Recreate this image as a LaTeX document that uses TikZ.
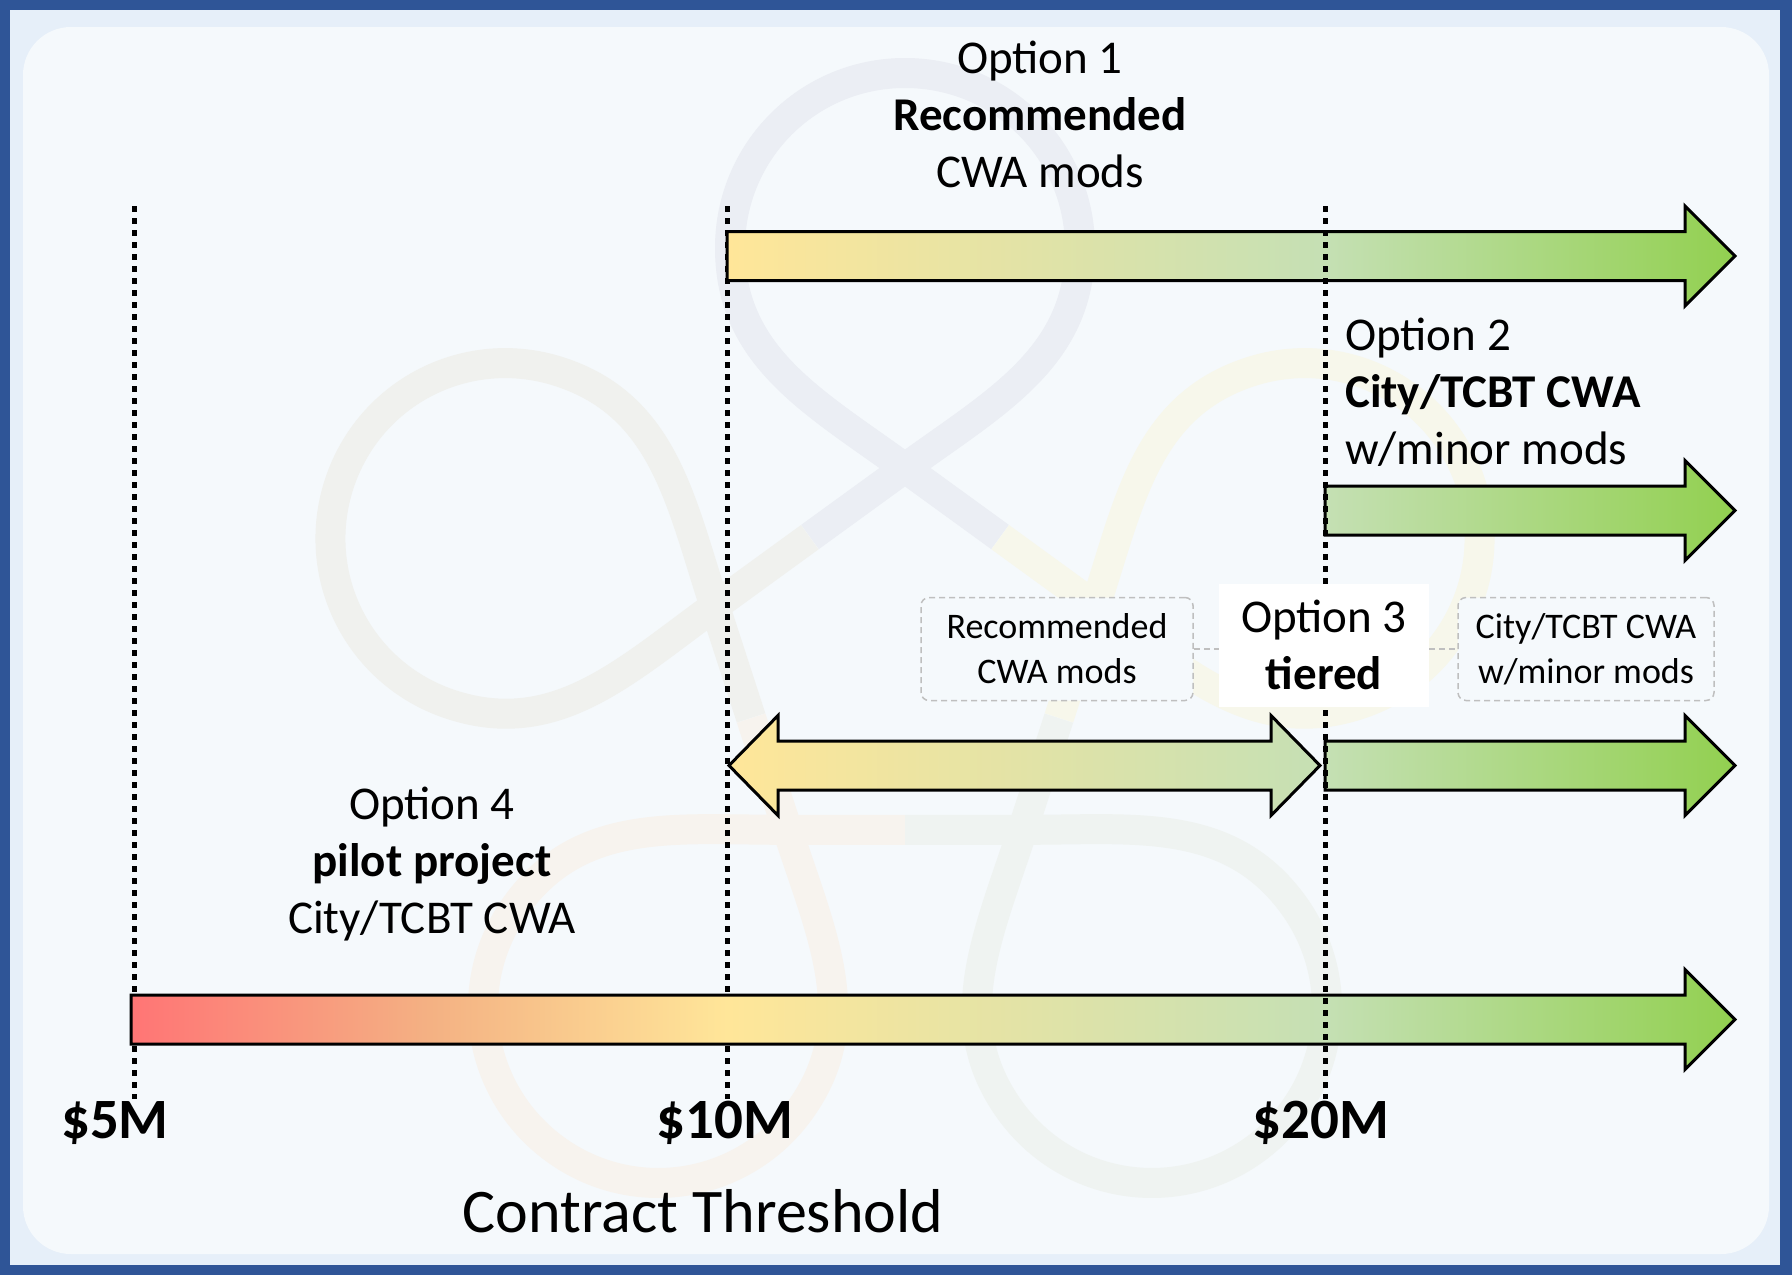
\documentclass[tikz,border=0pt]{standalone}
\usepackage{fontspec}
\setmainfont{Carlito}
\usepackage{xcolor}
\definecolor{frameblue}{HTML}{2F5597}
\definecolor{frameband}{HTML}{E6EFF9}
\definecolor{panelbg}{HTML}{F5F9FC}
\definecolor{boxgray}{HTML}{BFBFBF}
\definecolor{gradred}{HTML}{FF7575}
\definecolor{gradorange}{HTML}{F4B183}
\definecolor{gradyellow}{HTML}{FFE699}
\definecolor{gradlgreen}{HTML}{C5E0B4}
\definecolor{gradgreen}{HTML}{92D050}
\definecolor{wmgray}{HTML}{EBEEF4}
\definecolor{wmbeige}{HTML}{F0F1EE}
\definecolor{wmpeach}{HTML}{F7F3EE}
\definecolor{wmsage}{HTML}{EFF3F1}
\definecolor{wmyellow}{HTML}{F7F7EB}
\usepackage{tikz}
\usetikzlibrary{calc, positioning}
\pgfdeclarehorizontalshading{thresholdgrad}{100bp}{%
  color(0bp)=(gradred); color(25bp)=(gradred); color(34.3bp)=(gradorange);
  color(43.6bp)=(gradyellow); color(62.2bp)=(gradlgreen);
  color(75bp)=(gradgreen); color(100bp)=(gradgreen)}
\tikzset{
  %% Styles %%
  guideline/.style = {line width=5pt, dash pattern=on 5.5pt off 6.5pt, black},
  bararrow/.style = {
    draw=black, line width=3pt, line join=miter,
    path picture={\shade[shading=thresholdgrad] (131,0) rectangle (1735,1275);}
  },
  knot/.style = {line width=30pt, line cap=butt},
  optlabel/.style = {align=center, inner sep=0pt, font=\fontsize{47}{57}\selectfont},
  tierbox/.style = {
    align=center, draw=boxgray, line width=1.5pt, dash pattern=on 6pt off 4pt,
    rounded corners=8pt, fill=panelbg, minimum height=103pt,
    font=\fontsize{36}{45}\selectfont
  },
  tierlink/.style = {draw=boxgray, line width=1.5pt, dash pattern=on 6pt off 4pt},
  tickval/.style = {inner sep=0pt, font=\fontsize{57}{68}\selectfont\bfseries},
  axistitle/.style = {inner sep=0pt, font=\fontsize{62}{74}\selectfont},
}
\begin{document}
\begin{tikzpicture}[x=1pt, y=-1pt]
    \useasboundingbox (0,0) rectangle (1792,1275);

    % frame and panel
    \fill[frameblue] (0,0) rectangle (1792,1275);
    \fill[frameband] (10,10) rectangle (1780,1265);
    \fill[panelbg, rounded corners=48pt] (23,27) rectangle (1769,1254);

    % faint knot in the background, one loop per turn
    \foreach \k/\wcol in {0/wmgray, 1/wmbeige, 2/wmpeach, 3/wmsage, 4/wmyellow} {
        \begin{scope}[shift={(905,668)}, rotate=72*\k]
            \draw[knot, draw=\wcol] (-95,-131) -- (0,-200)
                .. controls (89,-265) and (175,-310) .. (175,-420)
                .. controls (175,-517) and (97,-595) .. (0,-595)
                .. controls (-97,-595) and (-175,-517) .. (-175,-420)
                .. controls (-175,-310) and (-89,-265) .. (0,-200) -- (95,-131);
        \end{scope}
    }

    % threshold guides
    \coordinate (t5) at (134,206);   \coordinate (b5) at (134,1099);
    \coordinate (t10) at (727,206);  \coordinate (b10) at (727,1099);
    \coordinate (t20) at (1325,206); \coordinate (b20) at (1325,1099);
    \draw[guideline] (t5) -- (b5);
    \draw[guideline] (t10) -- (b10);

    % option arrows
    \foreach \xs/\ym in {727/256, 1325/510.5, 1325/765.5, 131/1019.5}
        \draw[bararrow] (\xs,\ym-24.5) -- (1685,\ym-24.5) -- (1685,\ym-50) -- (1735,\ym)
            -- (1685,\ym+50) -- (1685,\ym+24.5) -- (\xs,\ym+24.5) -- cycle;
    \draw[bararrow] (729,765.5) -- (778,715.5) -- (778,741) -- (1271,741) -- (1271,715.5)
        -- (1320,765.5) -- (1271,815.5) -- (1271,790) -- (778,790) -- (778,815.5) -- cycle;

    \draw[guideline] (t20) -- (b20);

    % option texts
    \node[optlabel] (opt1) at (1040,114) {Option 1\\\textbf{Recommended}\\CWA mods};
    \node[optlabel, align=left, anchor=west] (opt2) at (1345,392)
        {Option 2\\\textbf{City/TCBT CWA}\\w/minor mods};
    \node[tierbox, minimum width=272pt] (tierrec) at (1057,649) {Recommended\\CWA mods};
    \node[tierbox, minimum width=256pt] (tiercity) at (1586,649) {City/TCBT CWA\\w/minor mods};
    \node[optlabel, fill=white, minimum width=210pt, minimum height=123pt] (opt3) at (1324,645)
        {Option 3\\\textbf{tiered}};
    \draw[tierlink] (tierrec.east) -- (tierrec.east -| opt3.west);
    \draw[tierlink] (tiercity.west -| opt3.east) -- (tiercity.west);
    \node[optlabel] (opt4) at (432,864) {Option 4\\\textbf{pilot project}\\City/TCBT CWA};

    % threshold values
    \node[tickval] (v5) at (115,1123) {\$5M};
    \node[tickval] (v10) at (725,1123) {\$10M};
    \node[tickval] (v20) at (1321,1123) {\$20M};
    \node[axistitle] (axis) at (703,1211) {Contract Threshold};
\end{tikzpicture}
\end{document}
